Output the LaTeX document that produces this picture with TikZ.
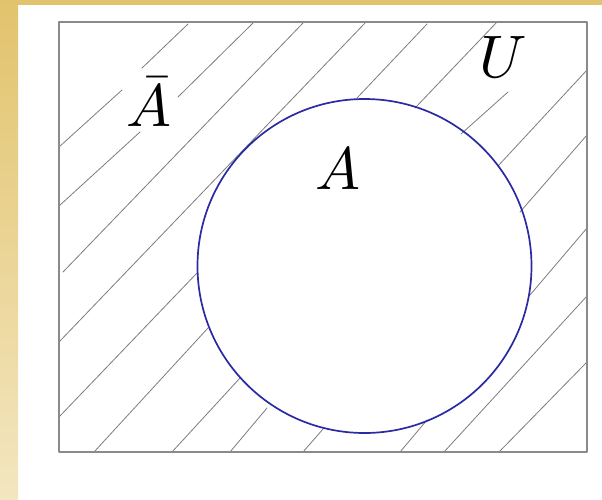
\documentclass[tikz,border=0pt]{standalone}

\definecolor{stripTop}{HTML}{E2C36D}
\definecolor{stripBot}{HTML}{F3E6C0}
\definecolor{hatchgray}{HTML}{7C7C7C}
\definecolor{framegray}{HTML}{8A8A8A}
\definecolor{setblue}{HTML}{2A2AA2}

\begin{document}
\begin{tikzpicture}[x=1pt, y=-1pt, line cap=round, line join=round,
  hatch/.style={draw=hatchgray, line width=0.8pt},
  frame/.style={draw=framegray, line width=1.3pt, line cap=butt},
  setline/.style={draw=setblue, line width=1.7pt},
  lbl/.style={inner sep=0pt, scale=6}]

  %% ════ page strips ════
  \shade[top color=stripTop, bottom color=stripBot] (0,0) rectangle (18,499);
  \fill[stripTop] (0,0) rectangle (602,5);

  %% ════ hatching (complement of A) ════
  \draw[hatch] (59,147) -- (122,90);
  \draw[hatch] (142,68) -- (188,24);
  \draw[hatch] (59,206) -- (140,132);
  \draw[hatch] (178,97) -- (253,23);
  \draw[hatch] (63,272) -- (303,23);
  \draw[hatch] (59,342) -- (366,22);
  \draw[hatch] (59,417) -- (197,273);
  \draw[hatch] (357,98) -- (427,24);
  \draw[hatch] (94,452) -- (208,328);
  \draw[hatch] (415,108) -- (497,22);
  \draw[hatch] (172,452) -- (240,378);
  \draw[hatch] (461,134) -- (508,92);
  \draw[hatch] (230,452) -- (267,408);
  \draw[hatch] (498,166) -- (587,70);
  \draw[hatch] (303,452) -- (323,429);
  \draw[hatch] (520,212) -- (587,135);
  \draw[hatch] (400,452) -- (427,420);
  \draw[hatch] (530,295) -- (587,228);
  \draw[hatch] (444,452) -- (587,296);
  \draw[hatch] (499,452) -- (587,362);

  %% ════ universe U ════
  \draw[frame] (59,22) rectangle (587,452);

  %% ════ set A ════
  \draw[setline] (364.5,266) circle (167);

  %% ════ labels ════
  \node[lbl] (Abar) at (149,102) {$\bar{A}$};
  \node[lbl] (Aset) at (338,169) {$A$};
  \node[lbl] (Uset) at (503,57) {$U$};

  \pgfresetboundingbox
  \path[use as bounding box] (0,0) rectangle (602,499);
\end{tikzpicture}
\end{document}
